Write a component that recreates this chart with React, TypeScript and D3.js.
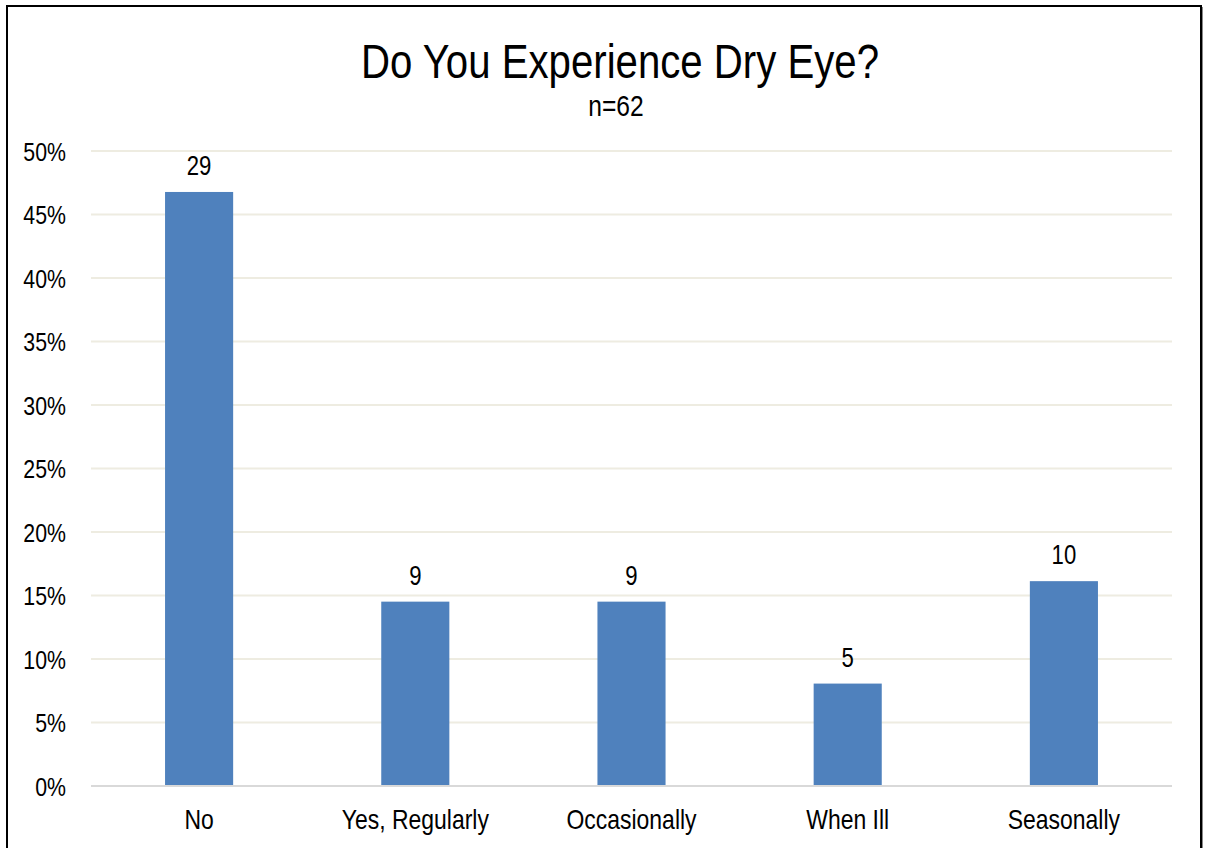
import React from "react";
import * as d3 from "d3";

const categories = ["No", "Yes, Regularly", "Occasionally", "When Ill", "Seasonally"];
const counts = [29, 9, 9, 5, 10];
const total = 62;
const yTicks = [0, 0.05, 0.1, 0.15, 0.2, 0.25, 0.3, 0.35, 0.4, 0.45, 0.5];
const title = "Do You Experience Dry Eye?";
const subtitle = "n=62";

const W = 1208;
const H = 848;
const FONT = "'Liberation Sans', Arial, sans-serif";
const SX = 0.82;

function T(props: { x: number; y: number; size: number; anchor?: string; children: React.ReactNode }) {
  return (
    <text
      transform={`translate(${props.x},${props.y}) scale(${SX},1)`}
      textAnchor={props.anchor || "middle"}
      fontSize={props.size}
      fill="#000"
    >
      {props.children}
    </text>
  );
}

export default function App() {
  const left = 91, right = 1172, top = 151, bottom = 786;
  const x = d3.scaleBand<string>().domain(categories).range([left, right]).paddingInner(0.685).paddingOuter(0.3425);
  const y = d3.scaleLinear().domain([0, 0.5]).range([bottom, top]);
  const fmt = d3.format(".0%");
  return (
    <svg width={W} height={H} style={{ position: "absolute", left: 0, top: 0, background: "#fff" }} fontFamily={FONT}>
      <rect x={0} y={0} width={W} height={H} fill="#fff" />
      <rect x={7} y={6} width={1194} height={H + 10} fill="none" stroke="#000" strokeWidth={2} />
      <line x1={1202.5} y1={7} x2={1202.5} y2={H} stroke="#888" strokeWidth={1} />
      <T x={620} y={78} size={49}>{title}</T>
      <T x={616} y={116} size={30}>{subtitle}</T>
      {yTicks.map((t) => (
        <g key={t}>
          {t > 0 && (
            <line x1={left} x2={right} y1={y(t)} y2={y(t)} stroke="#EEECE1" strokeWidth={2} />
          )}
          <T x={66} y={y(t) + 9.5} size={26} anchor="end">{fmt(t)}</T>
        </g>
      ))}
      {categories.map((c, i) => {
        const v = counts[i] / total;
        const bx = x(c)!;
        return (
          <g key={c}>
            <rect x={bx} y={y(v)} width={x.bandwidth()} height={bottom - y(v)} fill="#4F81BD" />
            <T x={bx + x.bandwidth() / 2} y={y(v) - 17} size={27}>{counts[i]}</T>
            <T x={bx + x.bandwidth() / 2} y={829} size={28}>{c}</T>
          </g>
        );
      })}
      <line x1={left} x2={right} y1={bottom} y2={bottom} stroke="#D9D9D9" strokeWidth={2} />
    </svg>
  );
}
